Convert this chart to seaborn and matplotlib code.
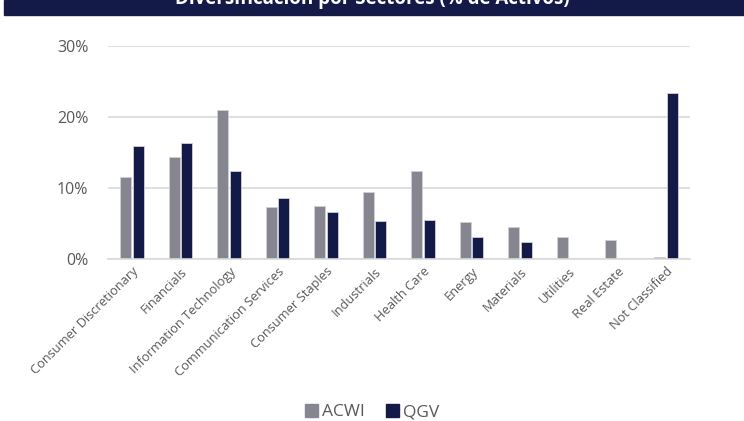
import matplotlib
matplotlib.use("Agg")
import matplotlib.pyplot as plt
import seaborn as sns
import pandas as pd
from matplotlib.patches import Rectangle
from matplotlib.ticker import FuncFormatter

categories = ["Consumer Discretionary", "Financials", "Information Technology",
              "Communication Services", "Consumer Staples", "Industrials",
              "Health Care", "Energy", "Materials", "Utilities", "Real Estate",
              "Not Classified"]
acwi = [11.6, 14.4, 20.9, 7.4, 7.5, 9.4, 12.4, 5.3, 4.6, 3.2, 2.7, 0.3]
qgv = [15.9, 16.4, 12.4, 8.6, 6.6, 5.4, 5.5, 3.2, 2.4, 0.0, 0.0, 23.3]
series = ["ACWI", "QGV"]
yticks = [0, 10, 20, 30]
title = "Diversificación por Sectores (% de Activos)"

df = pd.DataFrame({
    "Sector": categories * 2,
    "Serie": [series[0]] * len(categories) + [series[1]] * len(categories),
    "Valor": acwi + qgv,
})

sns.set_theme(style="white")
plt.rcParams["font.family"] = ["Open Sans", "DejaVu Sans"]

navy = "#131A47"
grey = "#868691"
text_c = "#595959"

fig = plt.figure(figsize=(7.44, 4.21), dpi=100)
ax = fig.add_axes([107.7 / 744, 1 - 259.3 / 421, (690 - 107.7) / 744, (259.3 - 45.7) / 421])

sns.barplot(data=df, x="Sector", y="Valor", hue="Serie", order=categories,
            hue_order=series, palette=[grey, navy], width=0.52, gap=0.13,
            ax=ax, legend=False, saturation=1, linewidth=0.6,
            edgecolor="#D0D0D8")

ax.set_ylim(0, 30)
ax.set_yticks(yticks)
ax.yaxis.set_major_formatter(FuncFormatter(lambda v, p: f"{v:.0f}%"))
ax.set_xlim(-0.5, len(categories) - 0.5)
ax.grid(axis="y", color="#D9D9D9", linewidth=1.2)
ax.set_axisbelow(True)
for s in ["top", "right", "left"]:
    ax.spines[s].set_visible(False)
ax.spines["bottom"].set_color("#D9D9D9")
ax.spines["bottom"].set_linewidth(1.2)
ax.set_xlabel("")
ax.set_ylabel("")
ax.tick_params(axis="y", labelsize=11.5, labelcolor=text_c, length=0, pad=14)
ax.tick_params(axis="x", labelsize=9.3, labelcolor=text_c, length=0, pad=4)
plt.setp(ax.get_xticklabels(), rotation=45, ha="right", rotation_mode="anchor")

# title banner
fig.patches.append(Rectangle((4 / 744, 1 - 15 / 421), 740 / 744, 15 / 421,
                             transform=fig.transFigure, color=navy, zorder=0))
fig.text(0.5, 1 - 4 / 421, title, ha="center", va="baseline", color="white",
         fontsize=13.5, fontweight="bold")

# legend
handles = [Rectangle((0, 0), 1, 1, color=grey), Rectangle((0, 0), 1, 1, color=navy)]
fig.legend(handles, series, loc="center", bbox_to_anchor=(0.5, 1 - 412 / 421),
           ncol=2, frameon=False, fontsize=12.5, handlelength=0.75, handleheight=0.75,
           handletextpad=0.25, columnspacing=1.2, labelcolor=text_c)

fig.savefig("out.png", dpi=100)
